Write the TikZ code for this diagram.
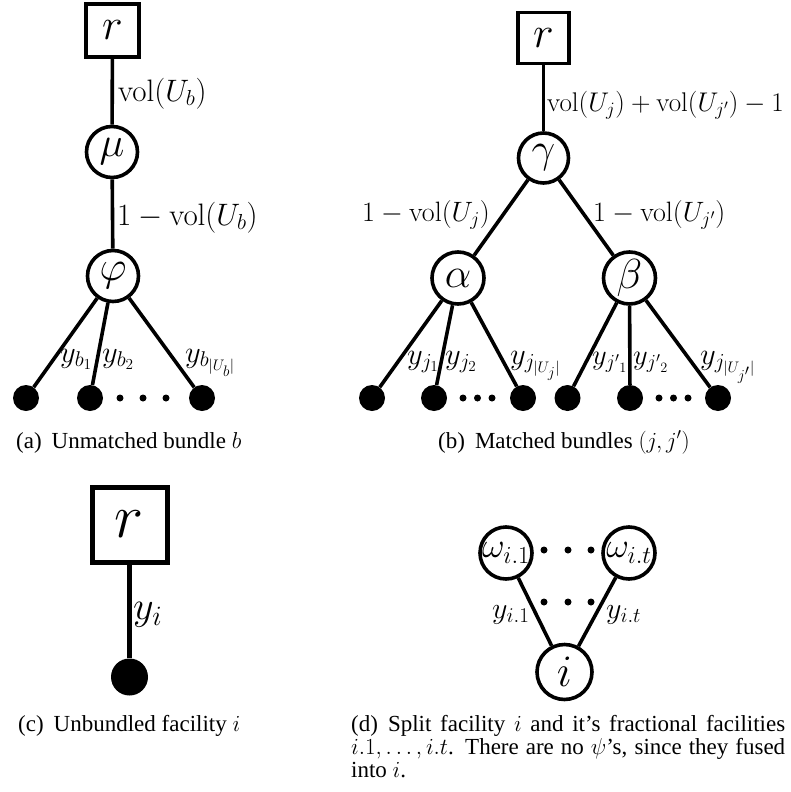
\RequirePackage{fix-cm}
\documentclass[tikz,border=0pt]{standalone}
\usepackage[no-math]{fontspec}
\newfontfamily\capfont{Liberation Serif}
\begin{document}
\begin{tikzpicture}[x=1pt,y=-1pt,
  sq/.style={draw,line width=3.6pt,minimum size=53pt,inner sep=0pt,font=\fontsize{44}{50}\selectfont},
  circ/.style={circle,draw,line width=3.6pt,minimum size=51pt,inner sep=0pt,font=\fontsize{42}{48}\selectfont},
  leaf/.style={circle,fill=black,minimum size=26pt,inner sep=0pt},
  dotn/.style={circle,fill=black,minimum size=7pt,inner sep=0pt},
  edge/.style={line width=3.6pt},
  lab/.style={inner sep=0pt,anchor=base west,font=\fontsize{28}{34}\selectfont},
  leaflab/.style={lab,font=\fontsize{30.5}{36}\selectfont},
  captext/.style={inner sep=0pt,anchor=base west,font=\capfont\fontsize{23}{23}\selectfont}
]
\useasboundingbox (0,0) rectangle (790,792);
% ---------- (a)
\node[sq] (ra) at (112.5,30.5) {$r$};
\node[circ] (mu) at (112,152) {$\mu$};
\node[circ] (phi) at (113,276) {$\varphi$};
\node[leaf] (a1) at (26,398) {};
\node[leaf] (a2) at (90,398) {};
\node[leaf] (a3) at (202,398) {};
\node[dotn] (ad1) at (120,398) {};
\node[dotn] (ad2) at (143,398) {};
\node[dotn] (ad3) at (166,398) {};
\draw[edge] (ra) -- (mu);
\draw[edge] (mu) -- (phi);
\draw[edge] (phi) -- (a1);
\draw[edge] (phi) -- (a2);
\draw[edge] (phi) -- (a3);
\node[lab,font=\fontsize{31}{36}\selectfont] (la1) at (118,101) {$\mathrm{vol}(U_b)$};
\node[lab,font=\fontsize{31}{36}\selectfont] (la2) at (117,225) {$1-\mathrm{vol}(U_b)$};
\node[leaflab] (la3) at (60,362) {$y_{b_1}$};
\node[leaflab] (la4) at (102,362) {$y_{b_2}$};
\node[leaflab] (la5) at (185,362) {$y_{b_{|U_b|}}$};
\node[captext] (capa) at (16,448) {(a)\hspace{10pt}Unmatched bundle $b$};
% ---------- (b)
\node[sq,minimum size=51pt] (rb) at (543.5,38) {$r$};
\node[circ,minimum size=50pt] (ga) at (543.5,158) {$\gamma$};
\node[circ,minimum size=52pt] (al) at (458,278) {$\alpha$};
\node[circ,minimum size=52pt] (be) at (629.5,278) {$\beta$};
\node[leaf] (b1) at (372,398) {};
\node[leaf] (b2) at (434,398) {};
\node[leaf] (b3) at (523,398) {};
\node[leaf] (b4) at (567.5,398) {};
\node[leaf] (b5) at (630,398) {};
\node[leaf] (b6) at (718,398) {};
\node[dotn] (bd1) at (463,398) {};
\node[dotn] (bd2) at (477.5,398) {};
\node[dotn] (bd3) at (492,398) {};
\node[dotn] (bd4) at (659,398) {};
\node[dotn] (bd5) at (673.5,398) {};
\node[dotn] (bd6) at (688,398) {};
\draw[edge] (rb) -- (ga);
\draw[edge] (ga) -- (al);
\draw[edge] (ga) -- (be);
\draw[edge] (al) -- (b1);
\draw[edge] (al) -- (b2);
\draw[edge] (al) -- (b3);
\draw[edge] (be) -- (b4);
\draw[edge] (be) -- (b5);
\draw[edge] (be) -- (b6);
\node[lab,font=\fontsize{27}{32}\selectfont] (lb1) at (547,111) {$\mathrm{vol}(U_j)+\mathrm{vol}(U_{j'})-1$};
\node[lab,anchor=base east] (lb2) at (490,221) {$1-\mathrm{vol}(U_j)$};
\node[lab] (lb3) at (593,221) {$1-\mathrm{vol}(U_{j'})$};
\node[leaflab] (lb4) at (407,364) {$y_{j_1}$};
\node[leaflab] (lb5) at (445,364) {$y_{j_2}$};
\node[leaflab] (lb6) at (510,364) {$y_{j_{|U_j|}}$};
\node[leaflab,font=\fontsize{28.5}{34}\selectfont] (lb7) at (592,364) {$y_{{j'}_1}$};
\node[leaflab,font=\fontsize{28.5}{34}\selectfont] (lb8) at (633,364) {$y_{{j'}_2}$};
\node[leaflab] (lb9) at (700,364) {$y_{j_{|U_{j'}|}}$};
\node[captext] (capb) at (438,448) {(b)\hspace{10pt}Matched bundles $(j,j')$};
% ---------- (c)
\node[sq,minimum size=75pt,line width=5pt,font=\fontsize{62}{70}\selectfont] (rc) at (129.5,524.5) {$r$};
\node[leaf,minimum size=37pt] (c1) at (129.5,677) {};
\draw[edge,line width=5pt] (rc) -- (c1);
\node[lab,font=\fontsize{40}{46}\selectfont] (lc1) at (133,619) {$y_i$};
\node[captext] (capc) at (18,731) {(c)\hspace{10pt}Unbundled facility $i$};
% ---------- (d)
\node[circ,minimum size=52pt,font=\fontsize{35}{40}\selectfont] (w1) at (506,553) {$\omega_{i.1}$};
\node[circ,minimum size=52pt,font=\fontsize{35}{40}\selectfont] (wt) at (629,553) {$\omega_{i.t}$};
\node[circ,minimum size=55pt,font=\fontsize{45}{50}\selectfont] (ii) at (564.5,672) {$i$};
\node[dotn] (dd1) at (544,550) {};
\node[dotn] (dd2) at (568,550) {};
\node[dotn] (dd3) at (591,550) {};
\node[dotn] (dd4) at (544,602) {};
\node[dotn] (dd5) at (568,602) {};
\node[dotn] (dd6) at (591,602) {};
\draw[edge] (w1) -- (ii);
\draw[edge] (wt) -- (ii);
\node[lab,font=\fontsize{30}{36}\selectfont] (ld1) at (492,618) {$y_{i.1}$};
\node[lab,font=\fontsize{30}{36}\selectfont] (ld2) at (606,618) {$y_{i.t}$};
\node[captext,text width=434pt,align=justify] (capd) at (351,731) {(d)\hspace{10pt}Split facility $i$ and it’s fractional facilities\linebreak $i.1,\ldots,i.t$. There are no $\psi$’s, since they fused\linebreak into $i$.};
\end{tikzpicture}
\end{document}
